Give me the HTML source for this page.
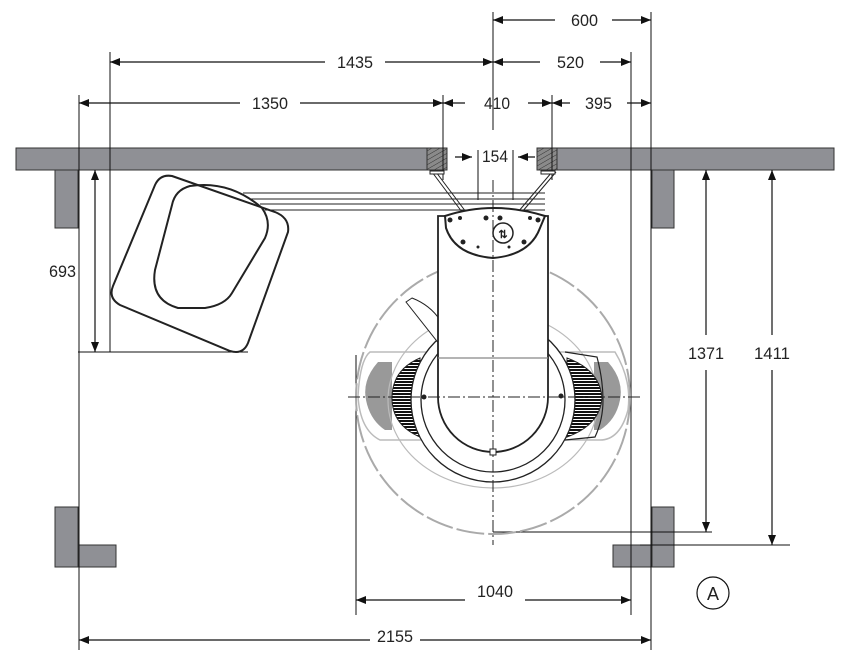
<!DOCTYPE html>
<html><head><style>
html,body{margin:0;padding:0;background:#fff;}
svg{display:block;}
text{font-family:"Liberation Sans",sans-serif;font-size:17px;fill:#222;}
</style></head><body>
<svg width="850" height="670" viewBox="0 0 850 670" xmlns="http://www.w3.org/2000/svg">
<defs>
<marker id="a" viewBox="0 0 10 10" refX="10" refY="5" markerWidth="10" markerHeight="10" orient="auto-start-reverse" markerUnits="userSpaceOnUse"><path d="M0,1 L10,5 L0,9 Z" fill="#111"/></marker>
<pattern id="h" width="4" height="4" patternUnits="userSpaceOnUse" patternTransform="rotate(60)"><rect width="4" height="4" fill="#8a8a8a"/><line x1="0" y1="0" x2="0" y2="4" stroke="#333" stroke-width="1"/></pattern>
<pattern id="bk" width="3" height="3" patternUnits="userSpaceOnUse"><rect width="3" height="3" fill="#fff"/><rect width="3" height="2" fill="#111"/></pattern>
</defs>
<rect x="16" y="148" width="818" height="22" fill="#8f9095" stroke="#333" stroke-width="1"/>
<rect x="447" y="147" width="90" height="24" fill="#fff"/>
<rect x="427" y="148" width="20" height="22" fill="url(#h)" stroke="#333"/>
<rect x="537" y="148" width="20" height="22" fill="url(#h)" stroke="#333"/>
<g fill="#8f9095" stroke="#333">
<rect x="55" y="170" width="23" height="58"/>
<rect x="652" y="170" width="22" height="58"/>
<rect x="55" y="507" width="23" height="60"/><rect x="78" y="545" width="38" height="22"/>
<rect x="652" y="507" width="22" height="60"/><rect x="613" y="545" width="39" height="22"/>
</g>
<g stroke="#111" stroke-width="1" fill="none">
<line x1="79" y1="95" x2="79" y2="650"/>
<line x1="110" y1="52" x2="110" y2="352"/>
<line x1="443" y1="95" x2="443" y2="180"/>
<line x1="552" y1="95" x2="552" y2="180"/>
<line x1="493" y1="12" x2="493" y2="130"/>
<line x1="631" y1="52" x2="631" y2="615"/>
<line x1="651" y1="12" x2="651" y2="650"/>
<line x1="478" y1="150" x2="478" y2="200"/>
<line x1="513" y1="150" x2="513" y2="200"/>
<line x1="78" y1="352" x2="248" y2="352"/>
<line x1="493" y1="532" x2="712" y2="532"/>
<line x1="640" y1="545" x2="790" y2="545"/>
<line x1="356" y1="355" x2="356" y2="615"/>
</g>
<g stroke="#111" stroke-width="1.2" fill="none">
<line x1="493" y1="20" x2="555" y2="20" marker-start="url(#a)"/><line x1="612" y1="20" x2="651" y2="20" marker-end="url(#a)"/>
<line x1="110" y1="62" x2="325" y2="62" marker-start="url(#a)"/><line x1="385" y1="62" x2="493" y2="62" marker-end="url(#a)"/>
<line x1="493" y1="62" x2="540" y2="62" marker-start="url(#a)"/><line x1="600" y1="62" x2="631" y2="62" marker-end="url(#a)"/>
<line x1="79" y1="103" x2="240" y2="103" marker-start="url(#a)"/><line x1="300" y1="103" x2="443" y2="103" marker-end="url(#a)"/>
<line x1="443" y1="103" x2="465" y2="103" marker-start="url(#a)"/><line x1="528" y1="103" x2="552" y2="103" marker-end="url(#a)"/>
<line x1="552" y1="103" x2="570" y2="103" marker-start="url(#a)"/><line x1="627" y1="103" x2="651" y2="103" marker-end="url(#a)"/>
<line x1="455" y1="157" x2="472" y2="157" marker-end="url(#a)"/><line x1="535" y1="157" x2="518" y2="157" marker-end="url(#a)"/>
<line x1="95" y1="170" x2="95" y2="352" marker-start="url(#a)" marker-end="url(#a)"/>
<line x1="706" y1="170" x2="706" y2="335" marker-start="url(#a)"/><line x1="706" y1="370" x2="706" y2="532" marker-end="url(#a)"/>
<line x1="772" y1="170" x2="772" y2="335" marker-start="url(#a)"/><line x1="772" y1="370" x2="772" y2="545" marker-end="url(#a)"/>
<line x1="356" y1="600" x2="465" y2="600" marker-start="url(#a)"/><line x1="525" y1="600" x2="631" y2="600" marker-end="url(#a)"/>
<line x1="79" y1="640" x2="370" y2="640" marker-start="url(#a)"/><line x1="420" y1="640" x2="651" y2="640" marker-end="url(#a)"/>
</g>
<g lengthAdjust="spacingAndGlyphs">
<text x="571" y="26" textLength="27" lengthAdjust="spacingAndGlyphs">600</text>
<text x="337" y="68" textLength="36" lengthAdjust="spacingAndGlyphs">1435</text>
<text x="557" y="68" textLength="27" lengthAdjust="spacingAndGlyphs">520</text>
<text x="252" y="109" textLength="36" lengthAdjust="spacingAndGlyphs">1350</text>
<text x="484" y="109" textLength="26" lengthAdjust="spacingAndGlyphs">410</text>
<text x="585" y="109" textLength="27" lengthAdjust="spacingAndGlyphs">395</text>
<text x="482" y="162" textLength="26" lengthAdjust="spacingAndGlyphs">154</text>
<text x="49" y="277" textLength="27" lengthAdjust="spacingAndGlyphs">693</text>
<text x="688" y="359" textLength="36" lengthAdjust="spacingAndGlyphs">1371</text>
<text x="754" y="359" textLength="36" lengthAdjust="spacingAndGlyphs">1411</text>
<text x="477" y="597" textLength="36" lengthAdjust="spacingAndGlyphs">1040</text>
<text x="377" y="642" textLength="36" lengthAdjust="spacingAndGlyphs">2155</text>
</g>
<circle cx="713" cy="593" r="16" fill="none" stroke="#111" stroke-width="1.2"/>
<text x="713" y="600" text-anchor="middle" style="font-size:18px">A</text>
<g fill="none" stroke="#222" stroke-width="2">
<path d="M172,176 L275,212 Q290,218 288,232 L248,343 Q243,355 230,351 L120,305 Q108,298 113,286 L155,185 Q160,174 172,176 Z"/>
<path d="M190,186 Q230,180 262,208 Q272,222 265,238 L232,293 Q225,305 205,308 L178,308 Q150,300 155,270 L172,205 Q175,190 190,186 Z"/>
</g>
<g stroke="#222" stroke-width="1">
<line x1="243" y1="193" x2="545" y2="193"/><line x1="250" y1="199" x2="545" y2="199"/>
<line x1="260" y1="204" x2="545" y2="204"/><line x1="265" y1="210" x2="545" y2="210"/>
<line x1="432" y1="172" x2="462" y2="212"/><line x1="436" y1="172" x2="466" y2="212"/>
<line x1="556" y1="172" x2="522" y2="212"/><line x1="552" y1="172" x2="518" y2="212"/>
<rect x="430" y="171" width="14" height="3" fill="#fff"/><rect x="541" y="171" width="14" height="3" fill="#fff"/>
</g>
<circle cx="493" cy="397" r="137" fill="none" stroke="#aaa" stroke-width="2" stroke-dasharray="28,4"/>
<path d="M370,352 L615,352 Q632,380 628,410 Q620,440 600,440 L380,440 Q360,430 358,396 Q360,360 370,352 Z" fill="#fff" stroke="#bbb" stroke-width="1.5"/>
<path d="M378,362 Q362,380 366,400 Q370,420 385,430 L392,430 L392,362 Z" fill="#999"/>
<path d="M608,362 Q624,380 620,400 Q616,420 600,430 L594,430 L594,362 Z" fill="#999"/>
<ellipse cx="493" cy="400" rx="105" ry="88" fill="none" stroke="#bbb" stroke-width="1.2"/>
<path d="M420,358 Q392,370 392,398 Q392,425 420,437 Z" fill="url(#bk)" stroke="#222"/>
<path d="M567,358 Q600,370 602,398 Q600,425 567,437 Z" fill="url(#bk)" stroke="#222"/>
<path d="M565,352 L597,357 Q603,380 603,400 Q603,420 595,437 L565,440" fill="none" stroke="#222" stroke-width="1.2"/>
<circle cx="493" cy="400" r="82" fill="#fff" stroke="#222" stroke-width="1.3"/>
<circle cx="493" cy="400" r="72" fill="#fff" stroke="#222" stroke-width="1.3"/>
<path d="M406,302 L412,298 Q430,305 440,320 L440,345 Z" fill="#fff" stroke="#222"/>
<path d="M438,216 L548,216 L548,397 A55,55 0 0 1 438,397 Z" fill="#fff" stroke="#222" stroke-width="1.8"/>
<line x1="438" y1="358" x2="548" y2="358" stroke="#888" stroke-width="1.2"/>
<path d="M445,216 Q493,200 545,216 L540,228 Q530,255 493,258 Q455,255 446,228 Z" fill="#fff" stroke="#222" stroke-width="2"/>
<g fill="#222">
<circle cx="450" cy="220" r="2.5"/><circle cx="460" cy="218" r="2"/><circle cx="486" cy="218" r="2.5"/><circle cx="500" cy="218" r="2.5"/><circle cx="530" cy="218" r="2"/><circle cx="538" cy="220" r="2.5"/>
<circle cx="463" cy="242" r="2.5"/><circle cx="524" cy="242" r="2.5"/><circle cx="478" cy="247" r="1.5"/><circle cx="509" cy="247" r="1.5"/>
<circle cx="424" cy="397" r="2.5"/><circle cx="561" cy="396" r="2.5"/>
</g>
<circle cx="503" cy="233" r="10" fill="#fff" stroke="#222" stroke-width="1.5"/>
<text x="503" y="238" text-anchor="middle" style="font-size:11px;font-weight:bold">⇅</text>
<g stroke="#222" stroke-width="1" stroke-dasharray="12,3,2,3">
<line x1="348" y1="397" x2="640" y2="397"/>
<line x1="493" y1="180" x2="493" y2="545"/>
</g>
<rect x="490" y="449" width="6" height="6" fill="#fff" stroke="#222"/>
</svg>
</body></html>
